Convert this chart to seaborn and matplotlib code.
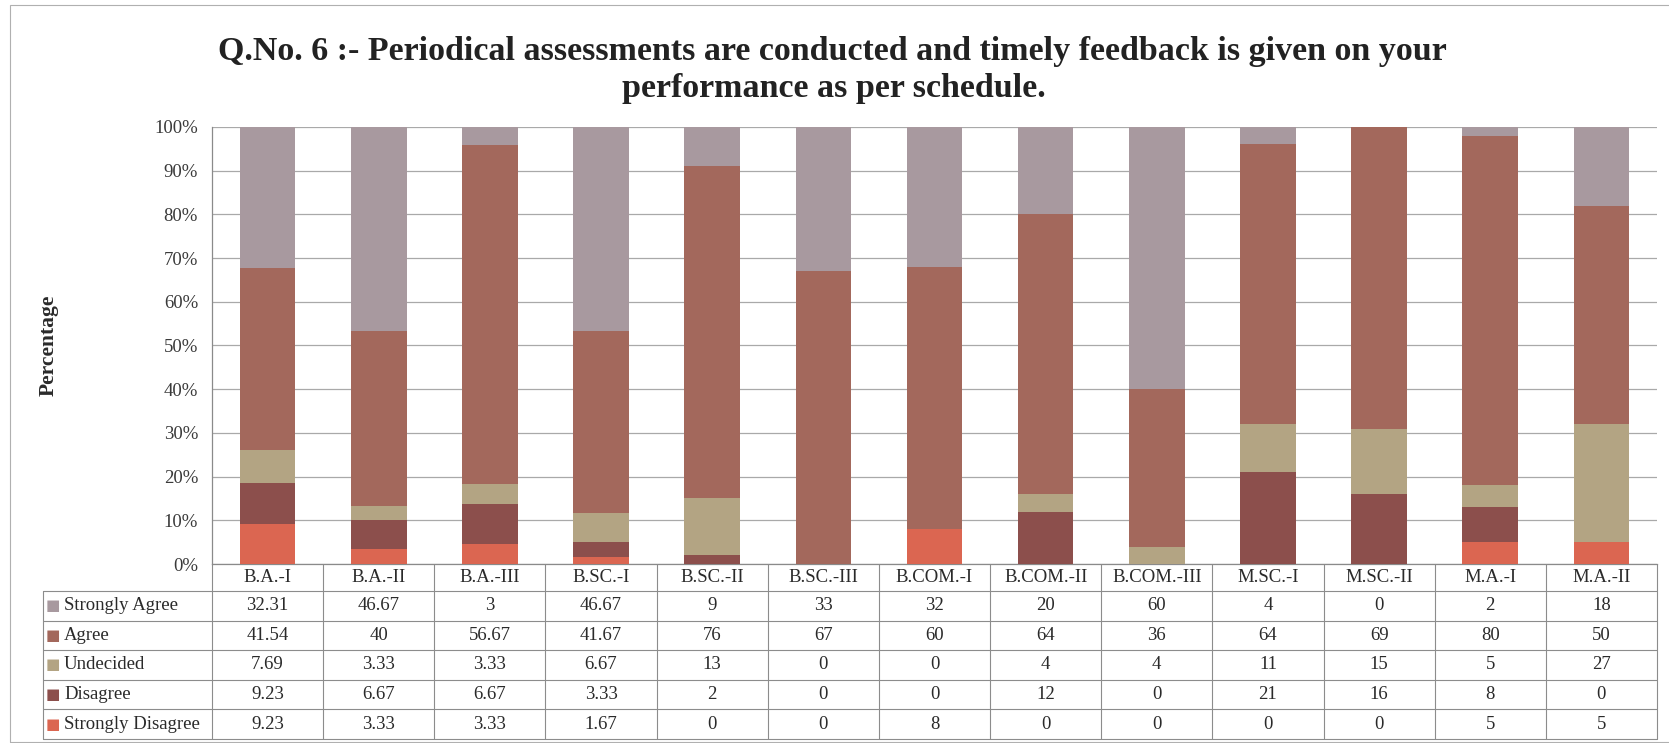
import numpy as np
import pandas as pd
import matplotlib.pyplot as plt
from matplotlib.lines import Line2D
from matplotlib.patches import Rectangle
from matplotlib.ticker import FuncFormatter
import seaborn as sns

sns.set_theme(style='white')
plt.rcParams['font.family'] = ['Liberation Serif', 'DejaVu Sans']

courses = ["B.A.-I", "B.A.-II", "B.A.-III", "B.SC.-I", "B.SC.-II", "B.SC.-III",
           "B.COM.-I", "B.COM.-II", "B.COM.-III", "M.SC.-I", "M.SC.-II", "M.A.-I", "M.A.-II"]
responses = ["Strongly Agree", "Agree", "Undecided", "Disagree", "Strongly Disagree"]

strongly_agree = [32.31, 46.67, 3, 46.67, 9, 33, 32, 20, 60, 4, 0, 2, 18]
agree = [41.54, 40, 56.67, 41.67, 76, 67, 60, 64, 36, 64, 69, 80, 50]
undecided = [7.69, 3.33, 3.33, 6.67, 13, 0, 0, 4, 4, 11, 15, 5, 27]
disagree = [9.23, 6.67, 6.67, 3.33, 2, 0, 0, 12, 0, 21, 16, 8, 0]
strongly_disagree = [9.23, 3.33, 3.33, 1.67, 0, 0, 8, 0, 0, 0, 0, 5, 5]

colors = {"Strongly Agree": "#a8999f",
          "Agree": "#a3685c",
          "Undecided": "#b3a483",
          "Disagree": "#8c4f4c",
          "Strongly Disagree": "#db6651"}

series = {"Strongly Agree": strongly_agree, "Agree": agree, "Undecided": undecided,
          "Disagree": disagree, "Strongly Disagree": strongly_disagree}
df = pd.DataFrame(series, index=courses)

# 100% stacked: share of each column total
pct = df.div(df.sum(axis=1), axis=0) * 100
# cumulative from the bottom (Strongly Disagree) upward
stack_order = responses[::-1]
cum = pct[stack_order].cumsum(axis=1)

fig = plt.figure(figsize=(16.69, 7.43), dpi=100)
ax = fig.add_axes([212 / 1669, 0.2409, 1445 / 1669, 0.5882])

# draw tallest layer first, each layer painted over the one above it
for resp in responses:
    d = pd.DataFrame({"course": courses, "value": cum[resp].values})
    sns.barplot(data=d, x="course", y="value", color=colors[resp], width=0.5,
                saturation=1, errorbar=None, linewidth=0, edgecolor='none',
                ax=ax, zorder=3)

ax.set_ylim(0, 100)
ax.set_xlim(-0.5, len(courses) - 0.5)
ax.set_yticks(np.arange(0, 101, 10))
ax.yaxis.set_major_formatter(FuncFormatter(lambda v, p: f"{int(v)}%"))
ax.tick_params(axis='y', length=0, pad=10, labelsize=13.5, labelcolor='#3a3a3a')
ax.set_xticks([])
ax.set_xlabel("")
ax.set_ylabel("")
ax.yaxis.grid(True, color='#a9a9a9', lw=0.9)
ax.set_axisbelow(True)
for s in ['top', 'right']:
    ax.spines[s].set_visible(False)
for s in ['left', 'bottom']:
    ax.spines[s].set_color('#8a8a8a')
    ax.spines[s].set_linewidth(0.9)

fig.text(0.029, 0.535, "Percentage", rotation=90, ha='center', va='center',
         fontsize=15.5, fontweight='bold', color='#2a2a2a')

fig.text(0.4987, 0.931, "Q.No. 6 :- Periodical assessments are conducted and timely feedback is given on your",
         ha='center', va='center', fontsize=24.5, fontweight='bold', color='#222222')
fig.text(0.4997, 0.881, "performance as per schedule.",
         ha='center', va='center', fontsize=24.5, fontweight='bold', color='#222222')

# data table under the plot
trans = ax.get_xaxis_transform()
hdr_h = 0.0618
row_h = 0.0677
px = len(courses) / 1445.0
lab_left = -0.5 - (212 - 43) * px
edge = '#8c8c8c'
n = len(courses)
y_bottom = -hdr_h - row_h * len(responses)

for i, c in enumerate(courses):
    ax.text(i, -hdr_h / 2, c, transform=trans, ha='center', va='center',
            fontsize=13.5, color='#2a2a2a', clip_on=False)

# vertical lines
for k in range(n + 1):
    ax.add_line(Line2D([k - 0.5, k - 0.5], [0, y_bottom], transform=trans,
                       color=edge, lw=0.8, clip_on=False))
ax.add_line(Line2D([lab_left, lab_left], [-hdr_h, y_bottom], transform=trans,
                   color=edge, lw=0.8, clip_on=False))
# horizontal lines
for r in range(len(responses) + 1):
    y = -hdr_h - r * row_h
    ax.add_line(Line2D([lab_left, n - 0.5], [y, y], transform=trans,
                       color=edge, lw=0.8, clip_on=False))

for r, resp in enumerate(responses):
    yc = -hdr_h - (r + 0.5) * row_h
    ax.text(lab_left + 3 * px, yc, "■", transform=trans, ha='left', va='center',
            fontsize=11, color=colors[resp], family=['DejaVu Sans'], clip_on=False)
    ax.text(lab_left + 21 * px, yc, resp, transform=trans, ha='left', va='center',
            fontsize=13.5, color='#2a2a2a', clip_on=False)
    for i, v in enumerate(series[resp]):
        ax.text(i, yc, f"{v:g}", transform=trans, ha='center', va='center',
                fontsize=13.5, color='#2a2a2a', clip_on=False)

# outer frame of the chart area
fig.patches.append(Rectangle((10 / 1669, 0.002), 1.0, 0.991, transform=fig.transFigure,
                             fill=False, edgecolor='#b0b0b0', lw=0.8))

fig.savefig("out.png", dpi=100)
